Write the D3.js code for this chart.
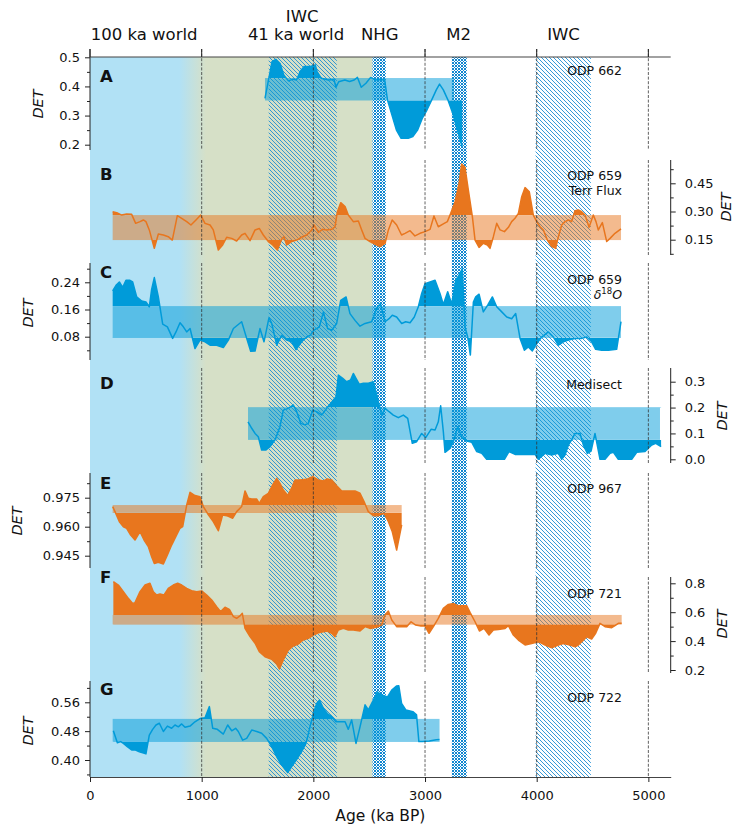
<!DOCTYPE html>
<html><head><meta charset="utf-8">
<script src="https://cdn.jsdelivr.net/npm/d3@7"></script>
<style>
body{margin:0;background:#fff}
text{font-family:"DejaVu Sans",sans-serif;fill:#111}
</style>
</head><body>
<svg id="chart" width="735" height="829"></svg>
<script>
// ---------------- data ----------------
const xTicks = [0,1000,2000,3000,4000,5000];
const eraBlueEnd = 800, eraGreenStart = 1040;
const iwcBands = [[1600,2210],[3990,4485]];
const nhgBand = [2530,2650];
const m2Band = [3240,3375];
const topLabelsRow1 = [["IWC",1900]];
const topLabelsRow2 = [["100 ka world",485],["41 ka world",1845],["NHG",2595],["M2",3300],["IWC",4240]];

const seriesA = [[1567,0.359],[1630,0.485],[1664,0.493],[1702,0.479],[1735,0.439],[1777,0.419],[1819,0.425],[1849,0.422],[1882,0.451],[1916,0.468],[1966,0.468],[2017,0.474],[2034,0.451],[2071,0.428],[2134,0.422],[2185,0.424],[2202,0.397],[2227,0.416],[2282,0.422],[2324,0.417],[2366,0.422],[2395,0.431],[2429,0.397],[2471,0.411],[2513,0.431],[2555,0.422],[2597,0.424],[2639,0.422],[2664,0.353],[2744,0.250],[2786,0.222],[2849,0.222],[2891,0.228],[2933,0.250],[2975,0.290],[3017,0.319],[3059,0.353],[3101,0.388],[3130,0.408],[3164,0.388],[3206,0.353],[3248,0.308],[3290,0.250],[3332,0.193]];
const bandA = [0.353,0.428], spanA = [1567,3260];
const ticksA = [0.2,0.3,0.4,0.5], minorA = [0.25,0.35,0.45];

const seriesB = [[203,0.299],[239,0.294],[284,0.281],[328,0.287],[373,0.285],[409,0.237],[448,0.246],[478,0.255],[501,0.246],[531,0.202],[576,0.104],[612,0.180],[657,0.175],[701,0.166],[737,0.148],[782,0.278],[821,0.264],[866,0.246],[904,0.228],[949,0.255],[991,0.281],[1030,0.237],[1075,0.228],[1104,0.202],[1149,0.095],[1188,0.122],[1224,0.163],[1269,0.157],[1313,0.143],[1358,0.175],[1388,0.184],[1433,0.145],[1478,0.202],[1516,0.210],[1552,0.175],[1597,0.140],[1636,0.122],[1678,0.095],[1716,0.152],[1737,0.166],[1761,0.122],[1806,0.140],[1851,0.148],[1895,0.163],[1940,0.175],[1985,0.202],[2006,0.228],[2045,0.189],[2081,0.205],[2119,0.202],[2164,0.205],[2194,0.219],[2215,0.299],[2245,0.347],[2284,0.326],[2313,0.281],[2358,0.246],[2403,0.249],[2433,0.202],[2463,0.157],[2507,0.140],[2567,0.122],[2597,0.113],[2642,0.130],[2672,0.202],[2706,0.255],[2746,0.228],[2790,0.175],[2821,0.184],[2866,0.198],[2910,0.170],[2955,0.184],[3000,0.193],[3045,0.205],[3080,0.276],[3119,0.219],[3164,0.234],[3200,0.246],[3230,0.290],[3269,0.352],[3305,0.450],[3328,0.553],[3358,0.535],[3388,0.414],[3424,0.273],[3448,0.148],[3484,0.109],[3522,0.131],[3558,0.122],[3582,0.104],[3612,0.166],[3642,0.237],[3672,0.202],[3711,0.193],[3747,0.216],[3776,0.246],[3806,0.264],[3836,0.290],[3866,0.379],[3896,0.427],[3934,0.405],[3970,0.281],[4000,0.246],[4030,0.219],[4060,0.202],[4095,0.148],[4134,0.113],[4170,0.104],[4194,0.166],[4224,0.228],[4254,0.246],[4284,0.255],[4313,0.246],[4343,0.304],[4373,0.308],[4403,0.299],[4433,0.281],[4469,0.216],[4507,0.281],[4531,0.246],[4552,0.202],[4588,0.241],[4627,0.140],[4657,0.157],[4701,0.184],[4755,0.207]];
const bandB = [0.148,0.281], spanB = [203,4755];
const ticksB = [0.15,0.30,0.45], minorB = [0.075,0.225,0.375,0.525];

const seriesC = [[203,0.215],[233,0.231],[263,0.241],[293,0.225],[322,0.246],[358,0.246],[382,0.241],[418,0.197],[463,0.185],[501,0.182],[531,0.168],[552,0.219],[576,0.254],[612,0.197],[651,0.117],[693,0.109],[740,0.075],[770,0.094],[806,0.121],[836,0.109],[866,0.094],[896,0.104],[940,0.045],[985,0.070],[1030,0.065],[1075,0.055],[1134,0.055],[1194,0.048],[1239,0.070],[1284,0.104],[1358,0.124],[1403,0.075],[1439,0.037],[1478,0.038],[1522,0.104],[1558,0.065],[1603,0.136],[1627,0.119],[1672,0.055],[1716,0.084],[1761,0.070],[1806,0.065],[1845,0.042],[1895,0.065],[1940,0.079],[1970,0.084],[2006,0.099],[2054,0.109],[2090,0.153],[2128,0.104],[2164,0.099],[2209,0.119],[2245,0.187],[2293,0.197],[2328,0.148],[2373,0.128],[2418,0.111],[2463,0.119],[2522,0.124],[2567,0.163],[2600,0.178],[2642,0.124],[2678,0.133],[2707,0.143],[2746,0.138],[2791,0.119],[2827,0.124],[2866,0.121],[2904,0.138],[2940,0.168],[2970,0.207],[3000,0.236],[3045,0.241],[3090,0.246],[3134,0.207],[3164,0.175],[3203,0.212],[3239,0.176],[3275,0.246],[3305,0.261],[3334,0.280],[3358,0.109],[3382,0.079],[3406,0.026],[3433,0.182],[3454,0.197],[3484,0.205],[3522,0.153],[3561,0.173],[3603,0.197],[3642,0.168],[3687,0.153],[3732,0.138],[3776,0.133],[3812,0.148],[3851,0.075],[3890,0.040],[3925,0.050],[3961,0.038],[4000,0.060],[4045,0.079],[4104,0.094],[4149,0.079],[4194,0.055],[4239,0.065],[4284,0.070],[4343,0.075],[4403,0.075],[4448,0.079],[4492,0.065],[4528,0.043],[4582,0.040],[4642,0.040],[4716,0.043],[4755,0.124]];
const bandC = [0.077,0.170], spanC = [203,4755];
const ticksC = [0.08,0.16,0.24], minorC = [0.04,0.12,0.20,0.28];

const seriesD = [[1415,0.145],[1448,0.120],[1478,0.100],[1507,0.087],[1537,0.036],[1576,0.036],[1612,0.049],[1657,0.075],[1701,0.126],[1731,0.190],[1776,0.197],[1821,0.210],[1851,0.184],[1887,0.139],[1925,0.133],[1955,0.139],[1994,0.190],[2030,0.184],[2075,0.171],[2119,0.197],[2155,0.216],[2203,0.242],[2224,0.326],[2263,0.313],[2298,0.300],[2334,0.307],[2358,0.332],[2382,0.313],[2412,0.290],[2448,0.294],[2493,0.294],[2537,0.300],[2567,0.249],[2612,0.171],[2642,0.197],[2678,0.184],[2716,0.171],[2761,0.161],[2806,0.171],[2845,0.158],[2886,0.062],[2925,0.068],[2970,0.100],[3006,0.084],[3054,0.116],[3090,0.113],[3119,0.145],[3140,0.207],[3164,0.107],[3179,0.027],[3224,0.042],[3254,0.068],[3293,0.126],[3328,0.087],[3373,0.071],[3418,0.066],[3463,0.030],[3508,0.023],[3552,0.0],[3627,0.0],[3711,0.0],[3752,0.030],[3806,0.019],[3896,0.019],[3985,0.019],[4015,0.0],[4075,0.023],[4134,0.017],[4194,0.023],[4224,0.0],[4254,0.017],[4284,0.055],[4313,0.075],[4343,0.100],[4388,0.100],[4418,0.055],[4454,0.023],[4487,0.032],[4522,0.100],[4567,0.0],[4612,0.0],[4657,0.023],[4687,0.027],[4731,0.0],[4851,0.0],[4896,0.027],[4970,0.030],[5030,0.055],[5066,0.062],[5114,0.049]];
const bandD = [0.075,0.200], spanD = [1415,5104];
const ticksD = [0.0,0.1,0.2,0.3], minorD = [0.05,0.15,0.25];

const seriesE = [[203,0.9704],[224,0.9678],[263,0.9626],[299,0.9600],[328,0.9592],[364,0.9557],[403,0.9531],[448,0.9574],[484,0.9531],[522,0.9497],[552,0.9445],[576,0.9410],[612,0.9416],[657,0.9407],[693,0.9454],[731,0.9505],[776,0.9557],[806,0.9592],[830,0.9600],[866,0.9712],[896,0.9778],[940,0.9761],[985,0.9755],[1015,0.9704],[1060,0.9661],[1104,0.9626],[1149,0.9579],[1188,0.9661],[1224,0.9657],[1278,0.9644],[1313,0.9678],[1358,0.9704],[1388,0.9785],[1418,0.9747],[1448,0.9743],[1493,0.9743],[1516,0.9721],[1552,0.9755],[1597,0.9773],[1636,0.9816],[1672,0.9850],[1701,0.9824],[1731,0.9790],[1770,0.9761],[1806,0.9799],[1836,0.9842],[1881,0.9842],[1940,0.9845],[1994,0.9859],[2045,0.9842],[2090,0.9837],[2125,0.9847],[2164,0.9842],[2209,0.9812],[2254,0.9785],[2313,0.9785],[2373,0.9785],[2418,0.9773],[2454,0.9730],[2492,0.9678],[2537,0.9657],[2582,0.9656],[2627,0.9669],[2642,0.9661],[2672,0.9626],[2707,0.9574],[2746,0.9479],[2791,0.9609]];
const bandE = [0.9672,0.9712], spanE = [203,2791];
const ticksE = [0.945,0.960,0.975], minorE = [0.9525,0.9675,0.9825];

const seriesF = [[209,0.811],[254,0.788],[299,0.742],[343,0.696],[382,0.661],[403,0.666],[448,0.742],[493,0.788],[537,0.800],[567,0.742],[597,0.719],[627,0.726],[663,0.719],[701,0.765],[746,0.788],[785,0.800],[821,0.788],[866,0.765],[910,0.749],[955,0.742],[1000,0.747],[1045,0.719],[1090,0.684],[1134,0.638],[1170,0.604],[1209,0.634],[1248,0.620],[1284,0.569],[1313,0.558],[1343,0.574],[1364,0.592],[1388,0.488],[1433,0.431],[1478,0.385],[1516,0.327],[1567,0.292],[1627,0.274],[1672,0.241],[1696,0.207],[1731,0.269],[1776,0.338],[1821,0.366],[1866,0.380],[1910,0.408],[1955,0.419],[2000,0.442],[2045,0.458],[2090,0.465],[2125,0.470],[2164,0.454],[2194,0.431],[2224,0.477],[2269,0.488],[2313,0.477],[2358,0.477],[2418,0.470],[2463,0.500],[2507,0.488],[2567,0.495],[2612,0.511],[2642,0.581],[2672,0.608],[2702,0.546],[2746,0.500],[2791,0.500],[2836,0.500],[2875,0.534],[2916,0.511],[2964,0.504],[3000,0.504],[3036,0.454],[3075,0.500],[3119,0.557],[3164,0.627],[3209,0.654],[3254,0.661],[3293,0.645],[3334,0.645],[3373,0.645],[3403,0.599],[3448,0.534],[3487,0.470],[3528,0.488],[3573,0.442],[3612,0.477],[3657,0.481],[3717,0.488],[3746,0.507],[3791,0.442],[3836,0.407],[3896,0.373],[3955,0.384],[4015,0.396],[4075,0.373],[4134,0.354],[4194,0.373],[4239,0.384],[4299,0.373],[4343,0.361],[4373,0.373],[4418,0.407],[4448,0.430],[4492,0.414],[4528,0.454],[4567,0.523],[4612,0.500],[4672,0.493],[4701,0.507],[4731,0.523],[4761,0.523]];
const bandF = [0.516,0.581], spanF = [203,4761];
const ticksF = [0.2,0.4,0.6,0.8], minorF = [0.3,0.5,0.7];

const seriesG = [[209,0.481],[245,0.448],[275,0.451],[299,0.446],[334,0.437],[373,0.428],[403,0.428],[442,0.423],[472,0.420],[501,0.417],[531,0.469],[561,0.485],[591,0.497],[621,0.502],[657,0.479],[693,0.494],[731,0.488],[761,0.497],[791,0.492],[821,0.500],[851,0.491],[896,0.494],[940,0.506],[985,0.515],[1030,0.517],[1069,0.548],[1099,0.488],[1140,0.485],[1194,0.472],[1233,0.497],[1269,0.481],[1304,0.488],[1328,0.479],[1367,0.455],[1403,0.460],[1448,0.483],[1493,0.479],[1537,0.474],[1582,0.460],[1627,0.437],[1672,0.409],[1707,0.391],[1746,0.374],[1770,0.365],[1806,0.382],[1851,0.402],[1895,0.423],[1934,0.446],[1970,0.492],[2000,0.529],[2030,0.557],[2054,0.566],[2090,0.543],[2125,0.529],[2164,0.520],[2203,0.506],[2245,0.506],[2284,0.506],[2313,0.485],[2343,0.511],[2382,0.446],[2418,0.492],[2463,0.553],[2493,0.539],[2537,0.566],[2573,0.589],[2612,0.580],[2664,0.575],[2702,0.594],[2744,0.605],[2765,0.606],[2790,0.557],[2828,0.539],[2891,0.534],[2924,0.525],[2945,0.451],[2975,0.451],[3038,0.453],[3101,0.456],[3130,0.457]];
const bandG = [0.451,0.514], spanG = [203,3130];
const ticksG = [0.40,0.48,0.56], minorG = [0.36,0.44,0.52,0.60];

// ---------------- styling / layout ----------------
const BLUE = "#009bd9", ORANGE = "#e8761e";
const SKY = "#b1e1f5", OLIVE = "#d6e0c7", HATCH = "#1f8fd4";
const TOP = 57, BOT = 777;

const panels = [
 {key:"A", data:seriesA, band:bandA, span:spanA, color:BLUE,   side:"left",  dom:[0.2,0.5],    rng:[144.7,57.3], ext:[49,150],  ticks:ticksA, minor:minorA, fmt:".1f", sites:["ODP 662"], siteY:[75], letterY:82, det:[37.5,104]},
 {key:"B", data:seriesB, band:bandB, span:spanB, color:ORANGE, side:"right", dom:[0.15,0.45],  rng:[239.7,183.3],ext:[160,255], ticks:ticksB, minor:minorB, fmt:".2f", sites:["ODP 659","Terr Flux"], siteY:[180,195], letterY:180, det:[726,207]},
 {key:"C", data:seriesC, band:bandC, span:spanC, color:BLUE,   side:"left",  dom:[0.08,0.24],  rng:[336.7,282.3],ext:[263,360], ticks:ticksC, minor:minorC, fmt:".2f", sites:["ODP 659","δ18O"], siteY:[284,299], letterY:278, det:[28,313]},
 {key:"D", data:seriesD, band:bandD, span:spanD, color:BLUE,   side:"right", dom:[0.0,0.3],    rng:[459.3,381.7],ext:[368,463], ticks:ticksD, minor:minorD, fmt:".1f", sites:["Medisect"], siteY:[389], letterY:389, det:[722,416]},
 {key:"E", data:seriesE, band:bandE, span:spanE, color:ORANGE, side:"left",  dom:[0.945,0.975],rng:[555.7,497.7],ext:[473,568], ticks:ticksE, minor:minorE, fmt:".3f", sites:["ODP 967"], siteY:[493], letterY:489, det:[16.5,521]},
 {key:"F", data:seriesF, band:bandF, span:spanF, color:ORANGE, side:"right", dom:[0.2,0.8],    rng:[670,583.3],  ext:[577,673], ticks:ticksF, minor:minorF, fmt:".1f", sites:["ODP 721"], siteY:[597.5], letterY:582.5, det:[722,624]},
 {key:"G", data:seriesG, band:bandG, span:spanG, color:BLUE,   side:"left",  dom:[0.40,0.56],  rng:[760,702.3],  ext:[681,777], ticks:ticksG, minor:minorG, fmt:".2f", sites:["ODP 722"], siteY:[701.5], letterY:695, det:[28,731]}
];

const svg = d3.select("#chart");
const defs = svg.append("defs");
const x = d3.scaleLinear().domain([0,5200]).range([90,670.7]);

// gradient background for the two climate "worlds"
const grad = defs.append("linearGradient").attr("id","era").attr("gradientUnits","userSpaceOnUse")
  .attr("x1",x(0)).attr("x2",x(nhgBand[0])).attr("y1",0).attr("y2",0);
grad.append("stop").attr("offset",eraBlueEnd/nhgBand[0]).attr("stop-color",SKY);
grad.append("stop").attr("offset",eraGreenStart/nhgBand[0]).attr("stop-color",OLIVE);

const hp = defs.append("pattern").attr("id","hatch").attr("patternUnits","userSpaceOnUse").attr("width",4).attr("height",4);
hp.append("path").attr("d","M-1,-1 L5,5 M-1,3 L1,5 M3,-1 L5,1").attr("stroke",HATCH).attr("stroke-width",0.9);
const cp = defs.append("pattern").attr("id","cross").attr("patternUnits","userSpaceOnUse").attr("width",3).attr("height",3);
cp.append("rect").attr("width",3).attr("height",3).attr("fill","#ffffff");
cp.append("path").attr("d","M0,0 L3,3 M3,0 L0,3").attr("stroke","#1187d0").attr("stroke-width",1.0);

const bg = svg.append("g");
bg.append("rect").attr("x",x(0)).attr("y",TOP).attr("width",x(nhgBand[0])-x(0)).attr("height",BOT-TOP).attr("fill","url(#era)");
iwcBands.forEach(b=>bg.append("rect").attr("x",x(b[0])).attr("y",TOP).attr("width",x(b[1])-x(b[0])).attr("height",BOT-TOP).attr("fill","url(#hatch)"));
[nhgBand,m2Band].forEach(b=>bg.append("rect").attr("x",x(b[0])).attr("y",TOP).attr("width",x(b[1])-x(b[0])).attr("height",BOT-TOP).attr("fill","url(#cross)"));

// panels
panels.forEach(p=>{
  const y = d3.scaleLinear().domain(p.dom).range(p.rng);
  const g = svg.append("g");
  const [lo,hi] = p.band;
  g.append("rect").attr("x",x(p.span[0])).attr("width",x(p.span[1])-x(p.span[0]))
    .attr("y",y(hi)).attr("height",y(lo)-y(hi)).attr("fill",p.color).attr("opacity",0.5);
  const ca = defs.append("clipPath").attr("id","above"+p.key);
  ca.append("rect").attr("x",0).attr("width",735).attr("y",y(hi)-200).attr("height",200);
  const cb = defs.append("clipPath").attr("id","below"+p.key);
  cb.append("rect").attr("x",0).attr("width",735).attr("y",y(lo)).attr("height",200);
  const areaHi = d3.area().x(d=>x(d[0])).y0(y(hi)).y1(d=>y(d[1]));
  const areaLo = d3.area().x(d=>x(d[0])).y0(y(lo)).y1(d=>y(d[1]));
  g.append("path").attr("d",areaHi(p.data)).attr("fill",p.color).attr("clip-path",`url(#above${p.key})`);
  g.append("path").attr("d",areaLo(p.data)).attr("fill",p.color).attr("clip-path",`url(#below${p.key})`);
  g.append("path").attr("d",d3.line().x(d=>x(d[0])).y(d=>y(d[1]))(p.data))
    .attr("fill","none").attr("stroke",p.color).attr("stroke-width",1.5).attr("stroke-linejoin","round");
  xTicks.slice(1).forEach(t=>{
    g.append("line").attr("x1",x(t)).attr("x2",x(t)).attr("y1",p.ext[0]).attr("y2",p.ext[1])
      .attr("stroke","#333").attr("stroke-width",0.9).attr("stroke-dasharray","3,1.6").attr("opacity",0.85);
  });
  const ax = p.side==="left" ? x(0) : x(5200);
  const axisFn = p.side==="left" ? d3.axisLeft : d3.axisRight;
  const ag = g.append("g").attr("transform",`translate(${ax},0)`)
    .call(axisFn(y).tickValues(p.ticks).tickFormat(d3.format(p.fmt)).tickSize(5).tickPadding(p.side==="left"?5:9).tickSizeOuter(0));
  ag.select(".domain").remove();
  ag.selectAll("text").style("font-family","DejaVu Sans").style("font-size","13px").attr("fill","#111");
  ag.selectAll("line").attr("stroke","#222");
  const mg = g.append("g").attr("transform",`translate(${ax},0)`)
    .call(axisFn(y).tickValues(p.minor).tickFormat("").tickSize(3).tickSizeOuter(0));
  mg.select(".domain").remove();
  mg.selectAll("line").attr("stroke","#222");
  g.append("line").attr("x1",ax).attr("x2",ax).attr("y1",p.ext[0]).attr("y2",p.ext[1]).attr("stroke","#222").attr("stroke-width",1);
  g.append("text").attr("transform",`translate(${p.det[0]},${p.det[1]}) rotate(-90)`)
    .attr("text-anchor","middle").attr("dominant-baseline","central")
    .style("font-size","14.5px").style("font-style","italic").text("DET");
  g.append("text").attr("x",100).attr("y",p.letterY).style("font-size","16.5px").style("font-weight","bold").text(p.key);
  p.sites.forEach((s,i)=>{
    const t = g.append("text").attr("x",622).attr("y",p.siteY[i]).attr("text-anchor","end").style("font-size","12.5px");
    if (s==="δ18O") {
      t.append("tspan").style("font-style","italic").text("δ");
      t.append("tspan").attr("dy",-5).style("font-size","8.5px").text("18");
      t.append("tspan").attr("dy",5).style("font-style","italic").text("O");
    } else t.text(s);
  });
});

// top line with ticks
svg.append("line").attr("x1",x(0)).attr("x2",x(5200)).attr("y1",TOP).attr("y2",TOP).attr("stroke","#444").attr("stroke-width",1.2);
xTicks.forEach(t=>svg.append("line").attr("x1",x(t)).attr("x2",x(t)).attr("y1",49).attr("y2",TOP).attr("stroke","#222").attr("stroke-width",1));

// bottom axis
const bx = svg.append("g").attr("transform",`translate(0,${BOT})`)
  .call(d3.axisBottom(x).tickValues(xTicks).tickFormat(d3.format("d")).tickSize(5).tickPadding(9).tickSizeOuter(0));
bx.select(".domain").attr("stroke","#444").attr("stroke-width",1.2);
bx.selectAll("text").style("font-family","DejaVu Sans").style("font-size","13px").attr("fill","#111");
bx.selectAll("line").attr("stroke","#222");
svg.append("text").attr("x",(x(0)+x(5200))/2).attr("y",821).attr("text-anchor","middle").style("font-size","15.5px").text("Age (ka BP)");

// top era labels
topLabelsRow1.forEach(([t,a])=>svg.append("text").attr("x",x(a)).attr("y",21.5).attr("text-anchor","middle").style("font-size","16.5px").text(t));
topLabelsRow2.forEach(([t,a])=>svg.append("text").attr("x",x(a)).attr("y",39.5).attr("text-anchor","middle").style("font-size","16.5px").text(t));
</script>
</body></html>
